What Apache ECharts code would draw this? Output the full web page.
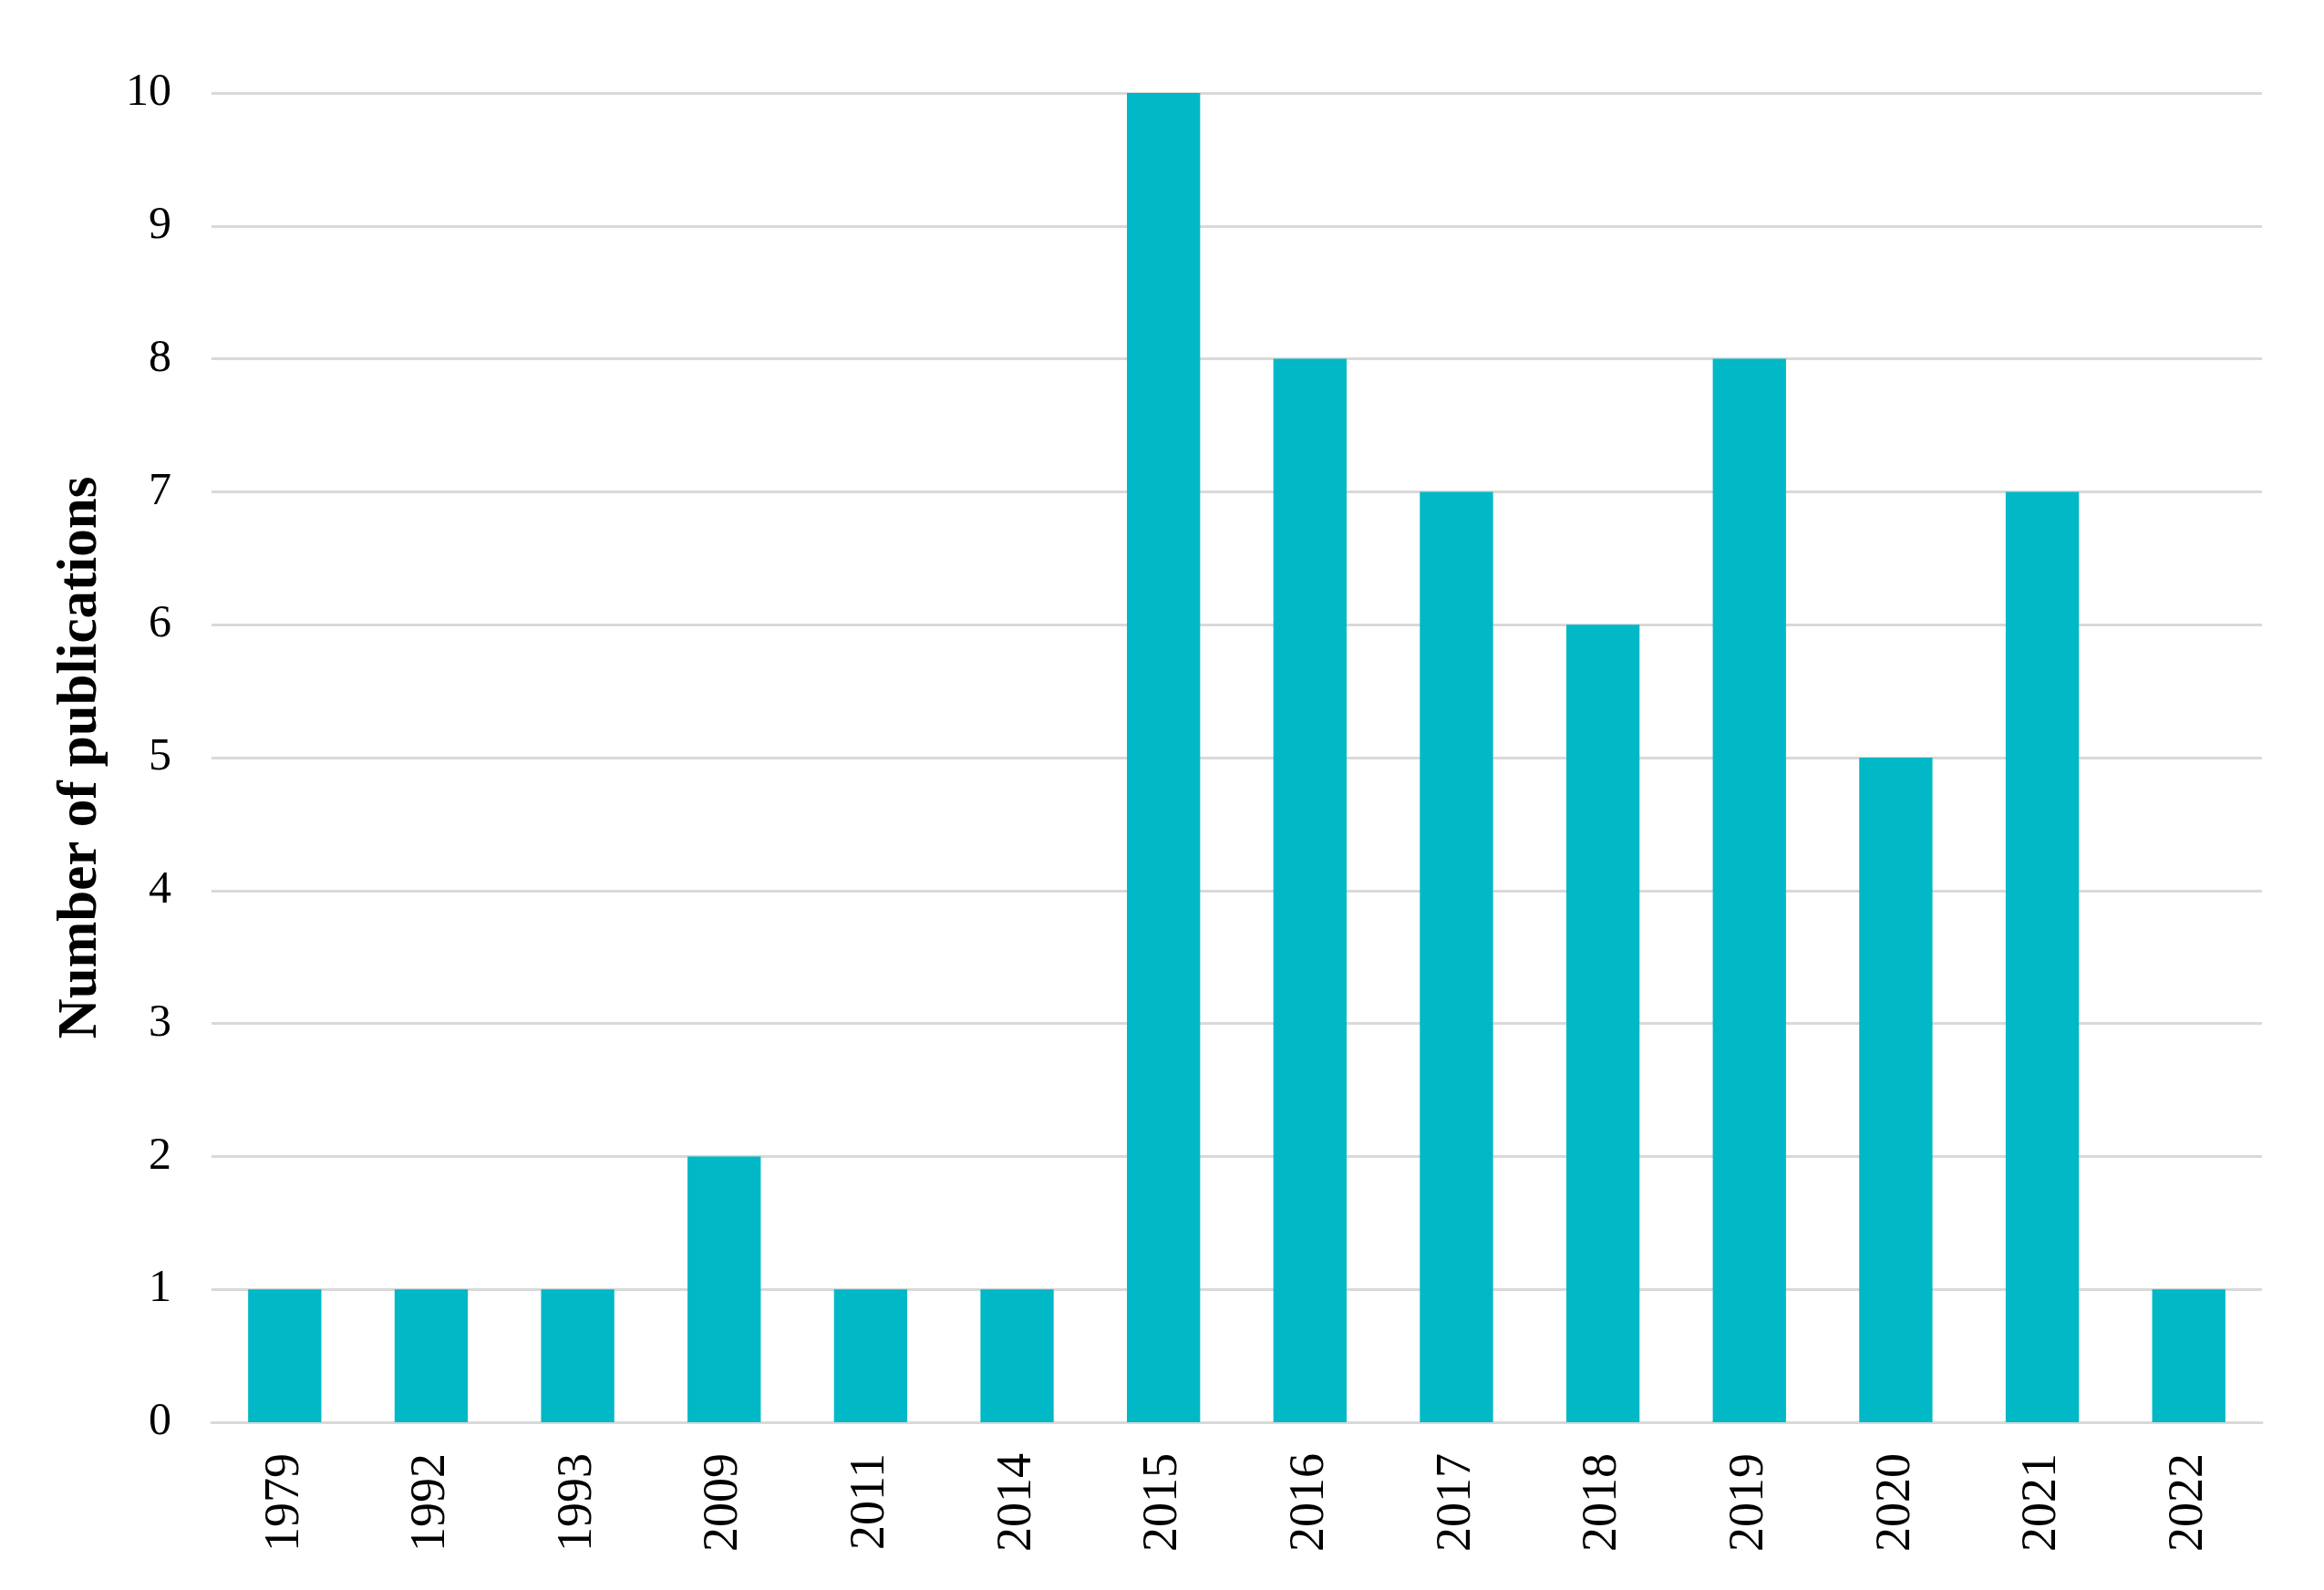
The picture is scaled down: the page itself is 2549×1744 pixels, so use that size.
<!DOCTYPE html>
<html>
<head>
<meta charset="utf-8">
<script src="https://cdn.jsdelivr.net/npm/echarts@6/dist/echarts.min.js"></script>
<style>
html, body { margin: 0; padding: 0; background: #ffffff; }
#chart { width: 2549px; height: 1744px; }
</style>
</head>
<body>
<div id="chart"></div>
<script>
const years = ['1979', '1992', '1993', '2009', '2011', '2014', '2015', '2016', '2017', '2018', '2019', '2020', '2021', '2022'];
const publications = [1, 1, 1, 2, 1, 1, 10, 8, 7, 6, 8, 5, 7, 1];
const yTicks = { min: 0, max: 10, interval: 1 };
const yTitle = 'Number of publications';

const FONT = "'Liberation Serif', 'Times New Roman', serif";
const chart = echarts.init(document.getElementById('chart'), null, { renderer: 'canvas' });
chart.setOption({
  backgroundColor: '#ffffff',
  animation: false,
  grid: { left: 232, right: 68, top: 102, bottom: 184, containLabel: false },
  xAxis: {
    type: 'category',
    data: years,
    axisLine: { show: true, lineStyle: { color: '#D9D9D9', width: 3 } },
    axisTick: { show: false },
    axisLabel: { rotate: 90, margin: 34, color: '#000000', fontFamily: FONT, fontSize: 54, interval: 0 },
    splitLine: { show: false }
  },
  yAxis: {
    type: 'value',
    min: yTicks.min,
    max: yTicks.max,
    interval: yTicks.interval,
    name: yTitle,
    nameLocation: 'middle',
    nameRotate: 90,
    nameGap: 112,
    nameTextStyle: { color: '#000000', fontFamily: FONT, fontSize: 61, fontWeight: 'bold' },
    axisLine: { show: false },
    axisTick: { show: false },
    axisLabel: { margin: 44, color: '#000000', fontFamily: FONT, fontSize: 50 },
    splitLine: { show: true, lineStyle: { color: '#D9D9D9', width: 3 } }
  },
  series: [{
    type: 'bar',
    data: publications,
    barCategoryGap: '50%',
    itemStyle: { color: '#00B8C6' }
  }]
});
</script>
</body>
</html>
